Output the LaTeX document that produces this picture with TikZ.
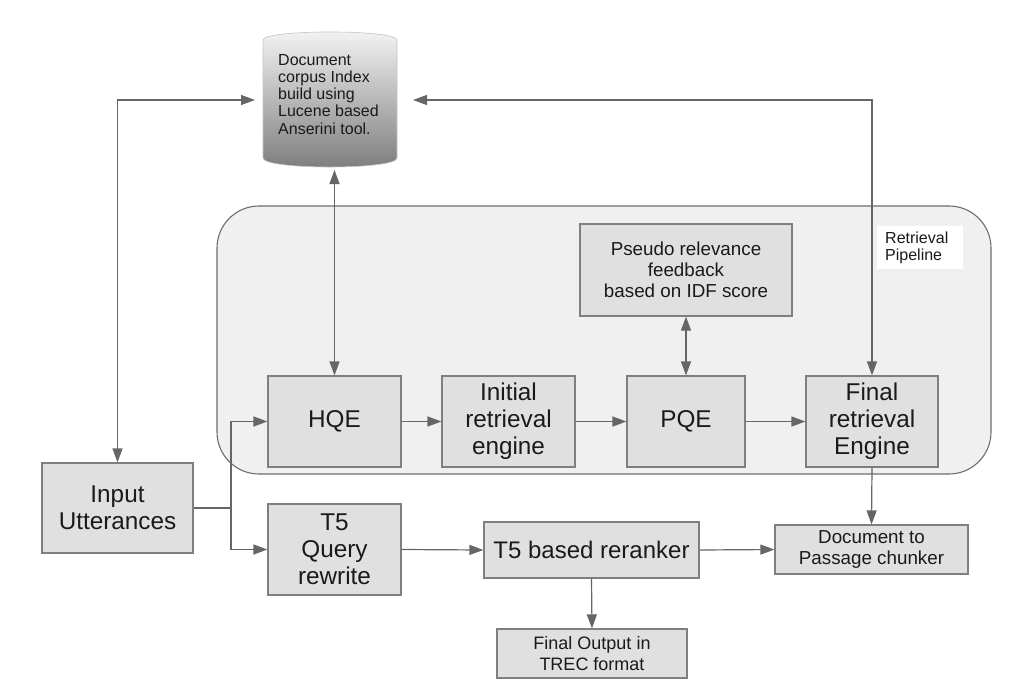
\documentclass[tikz,border=0pt]{standalone}
\usepackage{fontspec}
\setmainfont{Liberation Sans}
\usetikzlibrary{arrows.meta}
\definecolor{boxfill}{HTML}{E0E0E0}
\definecolor{boxline}{HTML}{7F7F7F}
\definecolor{lin}{HTML}{666666}
\definecolor{contfill}{HTML}{F0F0F0}
\definecolor{contline}{HTML}{6E6E6E}
\definecolor{txt}{HTML}{1A1A1A}
\definecolor{cyltop}{HTML}{F4F4F4}
\definecolor{cylbot}{HTML}{7C7C7C}
\begin{document}
\begin{tikzpicture}[x=1pt,y=-1pt,
  box/.style={draw=boxline, fill=boxfill, line width=1.2pt, inner sep=0pt, align=center, text=txt},
  bigtext/.style={font=\fontsize{24.3}{26.8}\selectfont},
  midtext/.style={font=\fontsize{18.8}{21}\selectfont},
  conn/.style={draw=lin, line width=1.2pt},
  tip/.style={-{Triangle[length=14pt,width=10pt]}},
  both/.style={{Triangle[length=14pt,width=10pt]}-{Triangle[length=14pt,width=10pt]}}
]
\useasboundingbox (0,0) rectangle (1020,694);
\fill[white] (0,0) rectangle (1020,694);

% container
\draw[fill=contfill, draw=contline, line width=1.1pt, rounded corners=42pt] (217,206) rectangle (991,474);

% cylinder
\shade[top color=cyltop, bottom color=cylbot, draw=gray!45, line width=0.6pt]
  (263,40) .. controls (263,29.3) and (397,29.3) .. (397,40) -- (397,158)
  .. controls (397,170) and (263,170) .. (263,158) -- cycle;
\node[anchor=north west, align=left, inner sep=0pt, text=txt, font=\fontsize{16}{17.2}\selectfont] (db) at (278,54)
  {Document\\corpus Index\\build using\\Lucene based\\Anserini tool.};
\coordinate (dbw) at (255,100);
\coordinate (dbe) at (413,100);
\coordinate (dbs) at (334.5,170);

% label
\node[fill=white, anchor=north west, align=left, inner xsep=8pt, inner ysep=5.5pt, text width=70pt, text=txt,
  font=\fontsize{16}{17}\selectfont] (rp) at (877,226) {Retrieval\\Pipeline};

% boxes
\node[box, bigtext, minimum width=133pt, minimum height=91pt] (hqe) at (334.5,421.5) {HQE};
\node[box, bigtext, minimum width=133pt, minimum height=91pt] (init) at (508.5,421.5) {Initial\\retrieval\\engine};
\node[box, bigtext, minimum width=118pt, minimum height=91pt] (pqe) at (686,421.5) {PQE};
\node[box, bigtext, minimum width=132pt, minimum height=91pt] (final) at (872,421.5) {Final\\retrieval\\Engine};
\node[box, midtext, minimum width=212pt, minimum height=92pt] (prf) at (686,270) {Pseudo relevance\\feedback\\based on IDF score};
\node[box, bigtext, minimum width=151pt, minimum height=90pt] (input) at (117.5,508) {Input\\Utterances};
\node[box, bigtext, minimum width=133pt, minimum height=91pt] (t5) at (334.5,549.5) {T5\\Query\\rewrite};
\node[box, font=\fontsize{24}{27}\selectfont, minimum width=215pt, minimum height=56pt] (rerank) at (591.5,550) {T5 based reranker};
\node[box, midtext, minimum width=193pt, minimum height=49pt] (chunk) at (871.5,549.5) {Document to\\Passage chunker};
\node[box, font=\fontsize{18}{21.5}\selectfont, minimum width=190pt, minimum height=49pt] (out) at (592,653.5) {Final Output in\\TREC format};

% connectors
\draw[conn, both] (input.north) |- (dbw);
\draw[conn, both] (final.north) |- (dbe);
\draw[conn, both] (hqe.north) -- (dbs);
\draw[conn, both] (prf.south) -- (pqe.north);
\draw[conn, tip] (hqe.east) -- (init.west);
\draw[conn, tip] (init.east) -- (pqe.west);
\draw[conn, tip] (pqe.east) -- (final.west);
\coordinate (split) at (231,508);
\draw[conn] (input.east) -- (split);
\draw[conn, tip] (split) |- (hqe.west);
\draw[conn, tip] (split) |- (t5.west);
\draw[conn, tip] (t5.east) -- (rerank.west);
\draw[conn, tip] (rerank.east) -- (chunk.west);
\draw[conn, tip] (final.south) -- (chunk.north);
\draw[conn, tip] (rerank.south) -- (out.north);
\end{tikzpicture}
\end{document}
